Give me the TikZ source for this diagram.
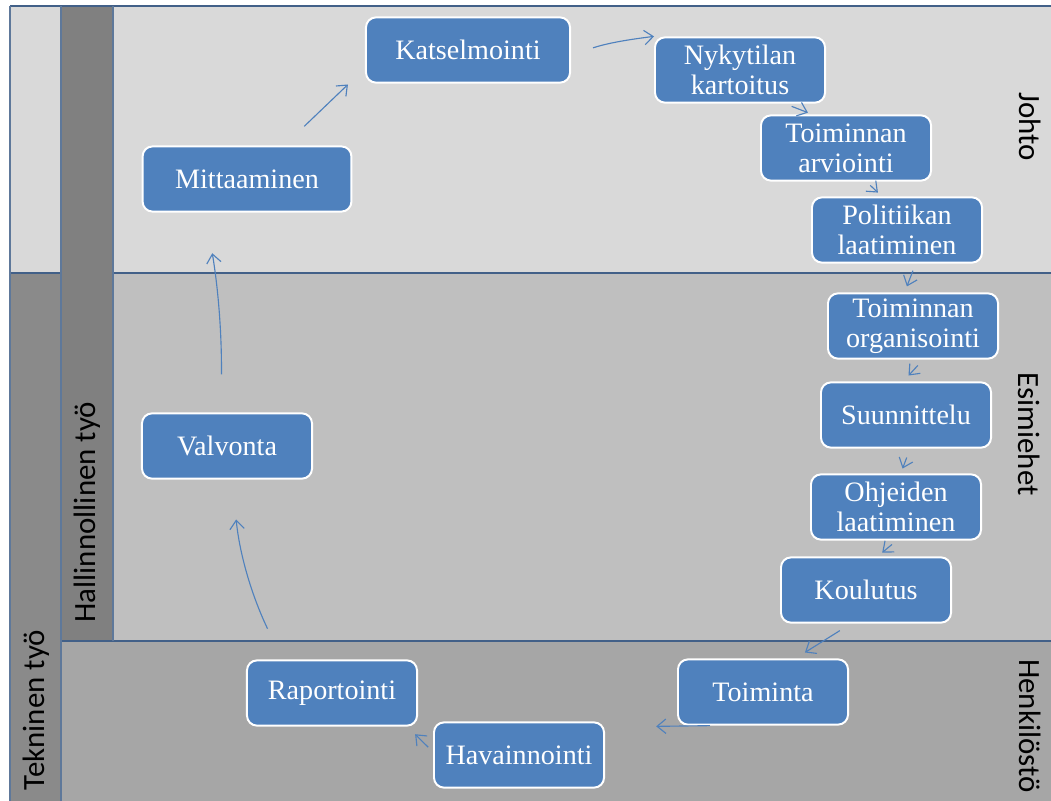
\documentclass[tikz,border=0pt]{standalone}
\usepackage{fontspec}
\setmainfont{Liberation Serif}
\newfontfamily\lanefont{Carlito}
\usetikzlibrary{positioning,arrows.meta,calc}

\definecolor{boxblue}{RGB}{79,129,189}
\definecolor{rulecol}{RGB}{66,96,136}
\definecolor{johtogray}{RGB}{217,217,217}
\definecolor{esimgray}{RGB}{191,191,191}
\definecolor{henkgray}{RGB}{166,166,166}
\definecolor{stripgray}{RGB}{128,128,128}

\begin{document}
\begin{tikzpicture}[
    x=0.025cm, y=-0.025cm,
    task/.style={
        rounded corners=0.25cm, draw=white, line width=1.4pt,
        fill=boxblue, text=white, align=center, inner sep=2pt,
        minimum width=4.25cm, minimum height=1.63cm,
        font=\fontsize{20}{21.5}\selectfont},
    wide/.style={task, minimum width=5.1cm},
    flow/.style={-{Straight Barb[length=2.2mm,width=3.6mm]}, line width=0.8pt, draw=boxblue},
    lane/.style={font=\lanefont\fontsize{22}{24}\selectfont, text=black},
    rule/.style={draw=rulecol, line width=2pt},
    thinrule/.style={draw=rulecol!85, line width=0.8pt},
]
\useasboundingbox (0,0) rectangle (1051,801);

% ---- bands + side strips ----
\fill[johtogray] (10,6) rectangle (1051,273);
\fill[esimgray]  (113,273) rectangle (1051,641);
\fill[henkgray]  (61,641) rectangle (1051,801);
\fill[stripgray] (61,6) rectangle (113,641);
\fill[stripgray!92!white] (10,273) rectangle (61,801);

\draw[rule] (10,6) -- (1051,6);
\draw[rule] (10,273) -- (61,273);
\draw[rule] (113,273) -- (1051,273);
\draw[rule] (61,641) -- (1051,641);
\draw[thinrule] (10,6) -- (10,801);
\draw[thinrule] (61,6) -- (61,801);
\draw[thinrule] (113,6) -- (113,641);

% ---- lane labels ----
\node[lane, rotate=-90] (johto) at (1030,127) {Johto};
\node[lane, rotate=-90] (esim)  at (1029,434) {Esimiehet};
\node[lane, rotate=-90] (henk)  at (1030,726) {Henkilöstö};
\node[lane, rotate=90]  (hall)  at (87,512)   {Hallinnollinen työ};
\node[lane, rotate=90]  (tekn)  at (36,710)   {Tekninen työ};

% ---- Johto ----
\node[wide] (kat) at (468,50)  {Katselmointi};
\node[task] (nyk) at (740,70)  {Nykytilan\\kartoitus};
\node[task] (arv) at (846,148) {Toiminnan\\arviointi};
\node[task] (pol) at (897,230) {Politiikan\\laatiminen};
\node[wide, minimum width=5.22cm] (mit) at (247,179) {Mittaaminen};

% ---- Esimiehet ----
\node[task] (org) at (913,326) {Toiminnan\\organisointi};
\node[task] (suu) at (906,415) {Suunnittelu};
\node[task] (ohj) at (896,507) {Ohjeiden\\laatiminen};
\node[task] (kou) at (866,590) {Koulutus};
\node[task] (val) at (227,446) {Valvonta};

% ---- Henkilöstö ----
\node[task] (toi) at (763,692) {Toiminta};
\node[task] (rap) at (332,693) {Raportointi};
\node[task] (hav) at (519,755) {Havainnointi};

% ---- cycle ----
\draw[flow, shorten <=0.69cm, shorten >=0.59cm] (mit.42) -- (kat.190);
\draw[flow, shorten <=0.58cm] (kat.-3) to[bend left=6] (nyk.north west);
\draw[flow, shorten <=0.19cm, shorten >=0.12cm] (nyk.-37) -- (arv.135);
\draw[flow, shorten <=0.14cm, shorten >=0.14cm] (arv.-59) -- (pol.114);
\draw[flow, shorten <=0.19cm, shorten >=0.16cm] (pol.-61) -- (org.104);
\draw[flow, shorten <=0.2cm,  shorten >=0.2cm]  (org.-73) -- (suu.95);
\draw[flow, shorten <=0.24cm, shorten >=0.13cm] (suu.-83) -- (ohj.82);
\draw[flow, shorten <=0.15cm, shorten >=0.15cm] (ohj.-89) -- (kou.71);
\draw[flow, shorten <=0.33cm, shorten >=0.28cm] (kou.-114) -- (toi.46);
\draw[flow, shorten <=0.08cm, shorten >=1.28cm] (toi.214) -- (hav.18);
\draw[flow, shorten <=0.17cm, shorten >=0.27cm] (hav.178) -- (rap.-24);
\draw[flow, shorten <=0.85cm, shorten >=1.0cm]  (rap.146) to[bend left=10] (val.-81);
\draw[flow, shorten <=0.95cm, shorten >=1.03cm] (val.100) to[bend right=5] (mit.-141);

\end{tikzpicture}
\end{document}
